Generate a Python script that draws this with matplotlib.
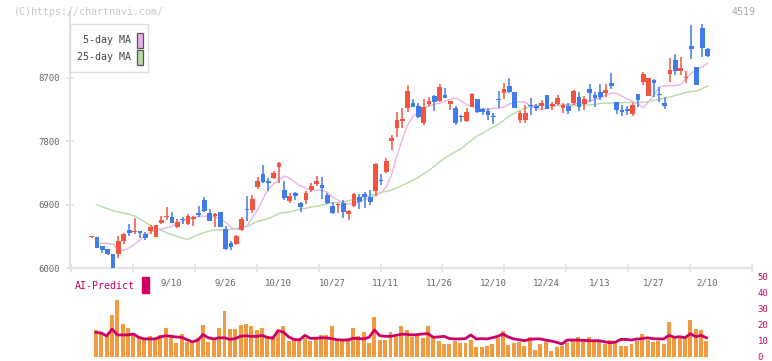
import numpy as np
import matplotlib
matplotlib.use("Agg")
import matplotlib.pyplot as plt
import matplotlib.transforms as mtransforms
from matplotlib.patches import Rectangle

plt.rcParams['font.family'] = ['DejaVu Sans Mono']

# ---- data (ticker 4519, daily) ----
opens = [6440, 6440, 6316, 6270, 6200, 6207, 6387, 6543, 6520, 6528,
         6486, 6533, 6443, 6641, 6725, 6727, 6589, 6690, 6632, 6699,
         6783, 6968, 6788, 6745, 6798, 6557, 6358, 6344, 6543, 6830,
         6826, 7156, 7336, 7237, 7275, 7431, 7109, 6958, 7071, 6921,
         6968, 7109, 7190, 7180, 7039, 6887, 6900, 6930, 6765, 6883,
         7015, 7053, 7015, 7100, 7245, 7369, 7808, 7992, 8091, 8267,
         8347, 8300, 8054, 8323, 8441, 8375, 8455, 8323, 8266, 8152,
         8087, 8290, 8398, 8257, 8233, 8152, 8398, 8480, 8583, 8494,
         8101, 8101, 8305, 8304, 8304, 8455, 8300, 8328, 8276, 8304,
         8337, 8431, 8323, 8540, 8455, 8494, 8488, 8625, 8352, 8243,
         8257, 8186, 8470, 8643, 8445, 8668, 8460, 8347, 8753, 8951,
         8796, 8692, 9149, 8857, 9400, 9107]
highs = [6445, 6450, 6320, 6275, 6205, 6458, 6500, 6628, 6717, 6530,
         6514, 6613, 6620, 6741, 6873, 6798, 6699, 6731, 6769, 6745,
         6882, 7010, 6836, 6779, 6800, 6599, 6387, 6470, 6731, 7024,
         7039, 7290, 7464, 7275, 7383, 7510, 7237, 7062, 7085, 6944,
         7100, 7204, 7308, 7290, 7062, 6944, 6930, 6968, 6826, 7071,
         7048, 7085, 7109, 7488, 7336, 7559, 7889, 8219, 8266, 8597,
         8394, 8337, 8394, 8431, 8455, 8611, 8550, 8370, 8300, 8172,
         8267, 8488, 8398, 8267, 8276, 8205, 8516, 8621, 8692, 8494,
         8233, 8314, 8408, 8330, 8380, 8460, 8352, 8455, 8337, 8337,
         8530, 8494, 8441, 8611, 8494, 8611, 8607, 8771, 8352, 8314,
         8300, 8337, 8470, 8785, 8691, 8682, 8565, 8423, 8984, 9037,
         8998, 8796, 9443, 8857, 9460, 9117]
lows = [6435, 6290, 6220, 6185, 5995, 6150, 6344, 6458, 6486, 6433,
        6400, 6486, 6440, 6627, 6684, 6646, 6575, 6627, 6613, 6604,
        6722, 6802, 6670, 6589, 6585, 6255, 6259, 6330, 6530, 6675,
        6788, 7120, 7204, 7100, 7261, 7204, 6968, 6921, 6968, 6802,
        6911, 7085, 7166, 6978, 6911, 6769, 6779, 6717, 6684, 6873,
        6836, 6850, 6897, 7024, 7180, 7346, 7676, 7865, 7984, 8219,
        8290, 8134, 8030, 8300, 8233, 8361, 8408, 8243, 8030, 8078,
        8078, 8281, 8196, 8172, 8101, 8045, 8267, 8394, 8488, 8267,
        8063, 8054, 8172, 8230, 8250, 8257, 8243, 8314, 8205, 8186,
        8320, 8229, 8243, 8361, 8290, 8384, 8431, 8540, 8186, 8162,
        8170, 8162, 8290, 8597, 8445, 8431, 8361, 8257, 8644, 8739,
        8739, 8621, 8966, 8597, 8998, 8998]
closes = [6445, 6290, 6259, 6200, 6010, 6387, 6486, 6500, 6530, 6504,
          6433, 6585, 6613, 6684, 6735, 6646, 6656, 6680, 6741, 6727,
          6759, 6816, 6675, 6765, 6589, 6278, 6302, 6462, 6694, 6820,
          6977, 7237, 7219, 7204, 7355, 7486, 7001, 7024, 7024, 6873,
          7071, 7166, 7237, 7142, 6921, 6779, 6910, 6802, 6811, 7053,
          6944, 7006, 6944, 7478, 7235, 7520, 7842, 8101, 8111, 8512,
          8290, 8149, 8290, 8370, 8352, 8565, 8417, 8370, 8063, 8145,
          8219, 8470, 8219, 8219, 8172, 8145, 8390, 8540, 8502, 8267,
          8196, 8196, 8295, 8267, 8347, 8257, 8328, 8408, 8314, 8229,
          8512, 8290, 8398, 8488, 8417, 8431, 8526, 8587, 8243, 8219,
          8229, 8314, 8384, 8752, 8691, 8630, 8450, 8304, 8809, 8800,
          8842, 8715, 9107, 8597, 9117, 9012]

# moving averages, from the second session on
ma5 = [6354, 6354, 6354, 6340, 6255, 6250, 6290, 6340, 6400, 6470,
       6515, 6535, 6555, 6575, 6600, 6640, 6670, 6700, 6720, 6735,
       6740, 6738, 6730, 6700, 6650, 6580, 6550, 6570, 6600, 6720,
       6830, 6990, 7120, 7200, 7250, 7308, 7275, 7215, 7165, 7135,
       7112, 7109, 7105, 7075, 7010, 6965, 6921, 6910, 6915, 6950,
       6975, 6995, 7030, 7070, 7150, 7330, 7590, 7830, 8030, 8150,
       8210, 8270, 8300, 8325, 8340, 8365, 8400, 8415, 8370, 8320,
       8295, 8275, 8255, 8250, 8267, 8267, 8285, 8330, 8350, 8361,
       8350, 8300, 8260, 8255, 8270, 8290, 8310, 8315, 8320, 8323,
       8345, 8355, 8375, 8395, 8420, 8450, 8480, 8480, 8440, 8400,
       8365, 8325, 8276, 8360, 8460, 8570, 8585, 8587, 8590, 8605,
       8690, 8770, 8810, 8850, 8905]
ma25 = [6900, 6870, 6845, 6815, 6800, 6785, 6765, 6740, 6700, 6650,
        6610, 6575, 6540, 6505, 6475, 6450, 6425, 6410, 6445, 6480,
        6505, 6530, 6543, 6543, 6543, 6553, 6565, 6580, 6590, 6630,
        6665, 6685, 6705, 6740, 6779, 6790, 6802, 6820, 6838, 6850,
        6868, 6880, 6895, 6915, 6925, 6935, 6942, 6960, 6975, 6988,
        7005, 7030, 7055, 7075, 7090, 7110, 7140, 7175, 7210, 7250,
        7290, 7340, 7390, 7450, 7510, 7565, 7610, 7655, 7695, 7760,
        7820, 7880, 7915, 7960, 8005, 8045, 8100, 8160, 8200, 8240,
        8270, 8295, 8310, 8312, 8308, 8305, 8304, 8305, 8307, 8309,
        8311, 8313, 8314, 8325, 8335, 8340, 8342, 8345, 8347, 8348,
        8349, 8350, 8352, 8365, 8380, 8395, 8415, 8428, 8450, 8470,
        8495, 8504, 8512, 8545, 8583]

# volume bars and AI-Predict line, also from the second session on
volume = [16.9, 14.2, 13.3, 26.3, 35.6, 20.4, 18.1, 13.8, 12.3, 10.6,
          12.9, 11.7, 13.8, 18.1, 13.3, 8.8, 14.4, 9.2, 8.8, 12.0,
          20.0, 9.6, 11.7, 18.1, 28.9, 17.5, 17.5, 20.0, 20.6, 19.4,
          16.9, 18.1, 11.7, 13.3, 16.9, 19.4, 10.2, 12.0, 12.0, 12.0,
          10.2, 12.0, 13.8, 13.8, 19.4, 10.2, 10.2, 12.0, 18.1, 13.3,
          15.8, 8.8, 25.0, 10.8, 10.8, 15.6, 12.7, 19.4, 16.9, 12.5,
          13.3, 11.7, 19.4, 12.3, 10.2, 8.1, 8.1, 10.2, 8.8, 8.8,
          10.6, 6.0, 6.0, 6.7, 8.1, 12.0, 16.3, 7.5, 8.8, 9.2,
          6.7, 12.3, 4.6, 8.1, 9.2, 3.9, 6.0, 6.7, 8.8, 10.2,
          12.3, 10.2, 12.3, 10.2, 10.2, 8.1, 10.6, 10.2, 6.7, 6.7,
          8.1, 10.2, 14.4, 10.8, 9.6, 10.2, 8.1, 22.0, 12.3, 12.3,
          12.0, 23.1, 17.5, 16.9, 10.2]
ai_predict = [15.4, 15.0, 13.1, 17.5, 13.8, 13.8, 13.8, 14.4, 12.3, 11.3,
              11.3, 11.3, 12.5, 13.3, 13.0, 12.5, 12.3, 10.8, 9.5, 10.5,
              14.0, 12.0, 11.3, 12.0, 12.0, 11.0, 11.5, 13.0, 13.3, 12.9,
              12.9, 13.5, 12.3, 11.7, 16.5, 15.5, 12.5, 11.0, 10.6, 13.5,
              11.7, 11.7, 12.0, 12.0, 11.5, 10.8, 10.6, 10.6, 11.7, 11.5,
              11.3, 12.3, 16.9, 13.3, 12.9, 12.9, 13.5, 14.2, 14.2, 13.8,
              14.0, 14.4, 14.6, 12.3, 12.6, 12.9, 11.5, 11.3, 11.3, 11.5,
              13.8, 11.3, 11.5, 11.3, 12.0, 12.9, 14.4, 12.5, 11.3, 10.8,
              10.2, 11.0, 11.3, 11.3, 10.5, 10.0, 9.2, 8.1, 10.6, 10.6,
              10.6, 10.4, 10.2, 10.2, 10.2, 9.5, 8.9, 9.3, 11.0, 11.0,
              10.6, 11.2, 11.5, 12.0, 11.5, 11.3, 11.3, 13.5, 12.3, 12.7,
              12.1, 14.5, 12.7, 13.5, 12.0]

date_labels = ['9/10', '9/26', '10/10', '10/27', '11/11', '11/26',
               '12/10', '12/24', '1/13', '1/27', '2/10']
label_days = [15, 25, 35, 45, 55, 65, 75, 85, 95, 105, 115]
price_ticks = [6000, 6900, 7800, 8700]
ai_ticks = [0, 10, 20, 30, 40, 50]

# ---- colours ----
UP = '#f25440'
DOWN = '#3f7bea'
MA5_C = '#e9b3ea'
MA25_C = '#b5dba6'
VOL_C = '#f39a40'
AI_C = '#cc0066'
AX_C = '#e2e2e2'
TXT_C = '#666666'

W, H = 772, 361
fig = plt.figure(figsize=(W / 100, H / 100), dpi=100)


def fx(px):
    return px / W


def fy(py):
    return 1 - py / H


days = np.arange(len(closes))
xlim = (-4.05, 123.3)

# ---- volume / AI panel (drawn first, transparent background) ----
ax2 = fig.add_axes([fx(70), fy(357), fx(752) - fx(70), fy(277) - fy(357)])
ax2.patch.set_visible(False)
ax2.set_xlim(*xlim)
ax2.set_ylim(0, 50)
vx = days[1:] - 0.2
ax2.bar(vx, volume, width=0.74, color=VOL_C, lw=0, zorder=2)
ax2.plot(vx, ai_predict, color=AI_C, lw=2.0, zorder=3)
for s in ax2.spines.values():
    s.set_visible(False)
ax2.set_xticks([])
ax2.yaxis.tick_right()
ax2.set_yticks(ai_ticks)
ax2.set_yticklabels([str(v) for v in ai_ticks])
ax2.tick_params(axis='y', length=0, labelsize=6.5, labelcolor=AI_C, pad=4)

# ---- price panel ----
ax = fig.add_axes([fx(70), fy(268.3), fx(752) - fx(70), fy(12) - fy(268.3)])
ax.patch.set_visible(False)
ax.set_xlim(*xlim)
ax.set_ylim(6000, 9632)

for d, o, h, l, c in zip(days, opens, highs, lows, closes):
    col = UP if c >= o else DOWN
    ax.vlines(d, l, h, color=col, lw=1.1, zorder=3)
    body = max(abs(c - o), 14)
    ax.bar(d, body, bottom=min(o, c), width=0.88, color=col, lw=0, zorder=3)

ax.plot(days[1:], ma25, color=MA25_C, lw=1, zorder=2)
ax.plot(days[1:], ma5, color=MA5_C, lw=1, zorder=2)

for s in ['top', 'right']:
    ax.spines[s].set_visible(False)
for s in ['left', 'bottom']:
    ax.spines[s].set_color(AX_C)
    ax.spines[s].set_linewidth(1.5)

ax.set_yticks(price_ticks)
ax.set_yticklabels([str(v) for v in price_ticks])
ax.tick_params(axis='y', direction='inout', length=6, width=1.2, color=AX_C,
               labelsize=6.5, labelcolor=TXT_C, pad=4)
ax.set_xticks(np.linspace(xlim[0] + 0.2, xlim[1], 12))
ax.set_xticklabels([])
ax.tick_params(axis='x', direction='inout', length=6, width=1.2, color=AX_C)

trans = mtransforms.blended_transform_factory(ax.transData, fig.transFigure)
for d, lab in zip(label_days, date_labels):
    ax.text(d - 0.1, fy(282.5), lab, transform=trans, ha='center', va='center',
            fontsize=6.5, color=TXT_C, clip_on=False)

fig.text(fx(75), fy(286), 'AI-Predict', color=AI_C, fontsize=7.2,
         ha='left', va='center')
fig.patches.append(Rectangle((fx(142), fy(293)), fx(7), fy(277) - fy(293),
                             transform=fig.transFigure, color=AI_C, zorder=5))

# ---- legend box ----
fig.patches.append(Rectangle((fx(70), fy(71.7)), fx(78), fy(24) - fy(71.7),
                             transform=fig.transFigure, facecolor='white',
                             edgecolor='#dddddd', lw=1, zorder=5))
for yc, lab, col in [(40, '5-day MA', MA5_C), (57, '25-day MA', MA25_C)]:
    fig.text(fx(131), fy(yc), lab, ha='right', va='center', fontsize=7.2,
             color='#444444', zorder=6)
    fig.patches.append(Rectangle((fx(136.5), fy(yc + 7.5)), fx(6), fy(yc - 7.5) - fy(yc + 7.5),
                                 transform=fig.transFigure, facecolor=col,
                                 edgecolor='#555555', lw=0.9, zorder=6))

# ---- header texts ----
fig.text(fx(14), fy(12), '(C)https://chartnavi.com/', ha='left', va='center',
         fontsize=7.2, color='#c8c8c8')
fig.text(fx(756), fy(12), '4519', ha='right', va='center', fontsize=7.2,
         color='#aaaaaa')

fig.savefig('out.png', dpi=100)
